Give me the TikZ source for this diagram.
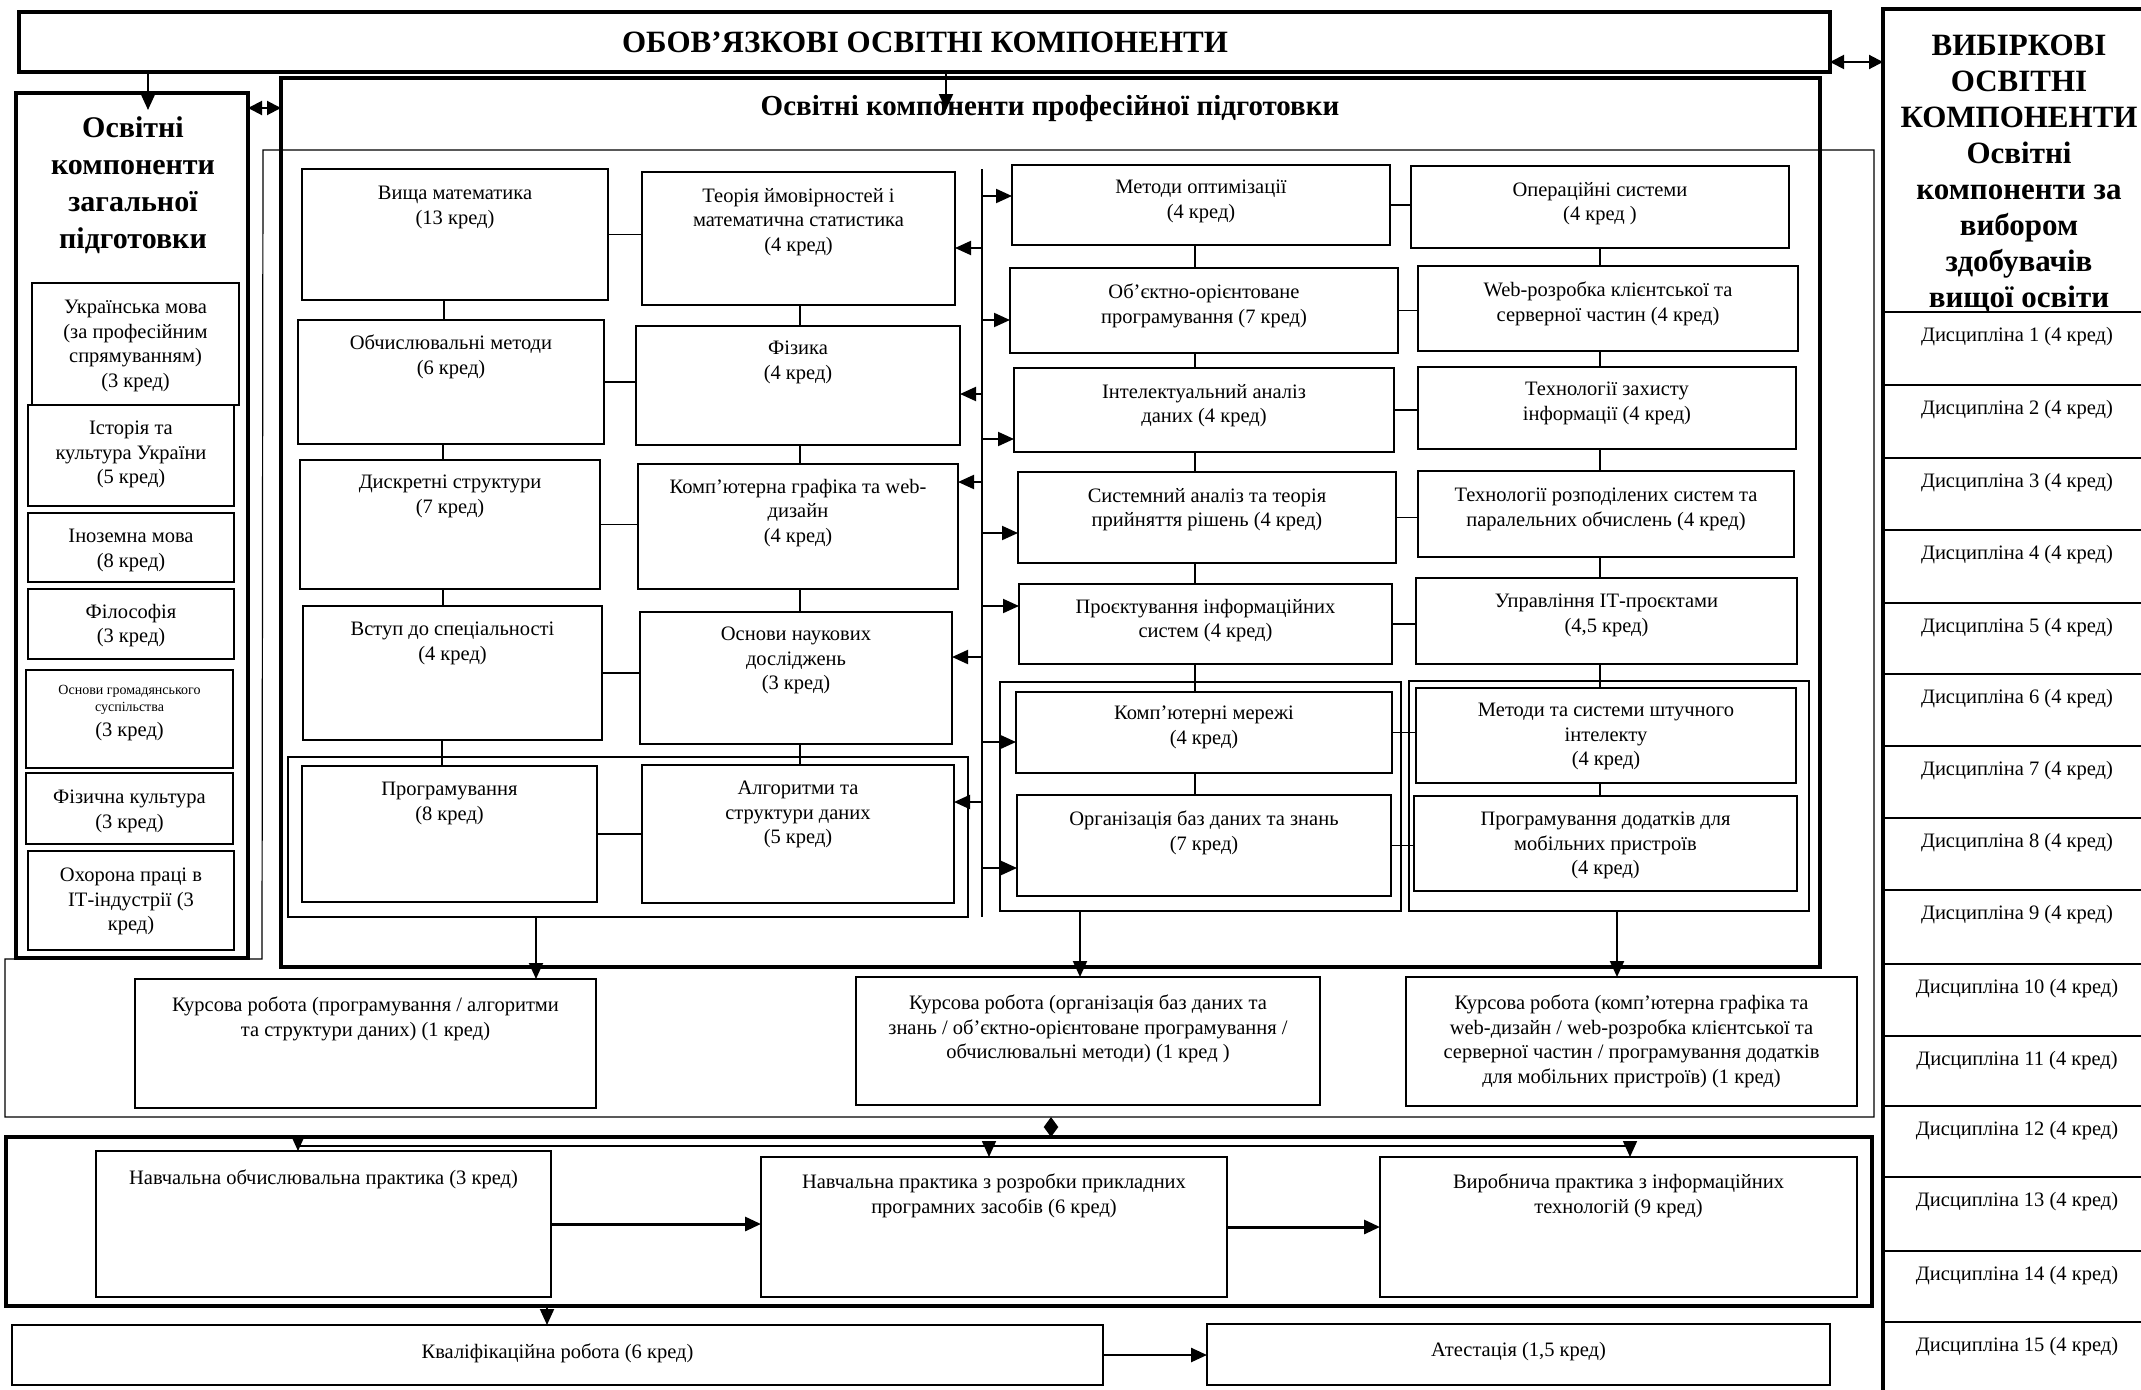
\documentclass[tikz,border=0pt]{standalone}
\usepackage{fontspec}
\setmainfont{Liberation Serif}
\usetikzlibrary{arrows.meta,calc}

\newcommand\mybox[8]{%
  \node[#6,minimum width={#4-#2},minimum height={#5-#3}] (#1) at ({(#2+#4)/2},{(#3+#5)/2}) {};
  \node[txst] (#1-t) at ({(#2+#4)/2},{#7-8}) {#8};}
\newcommand\drow[4]{%
  \node[rowst,anchor=north west,minimum width=420,minimum height={#3-#2}] (#1) at (1883,#2) {};
  \node[dtx] (#1-t) at (2017,{#2+25}) {#4};}

\begin{document}
\begin{tikzpicture}[x=1pt,y=-1pt,
  bxst/.style={draw,rectangle,line width=2.2pt,inner sep=0pt,outer sep=0pt},
  bigst/.style={bxst,line width=3.5pt},
  grpst/.style={bxst,line width=2pt},
  rowst/.style={bxst,line width=2.5pt},
  txst/.style={font=\fontsize{20.5}{24.5}\selectfont,align=center,anchor=north,inner sep=0pt},
  dtx/.style={font=\fontsize{20.5}{24.5}\selectfont,inner sep=0pt},
  ttl/.style={font=\fontsize{30}{37}\selectfont\bfseries,align=center,inner sep=0pt},
  con/.style={line width=1.2pt},
  arr/.style={line width=2pt,-{Triangle[length=16pt,width=14pt]}},
  darr/.style={line width=2pt,{Triangle[length=14pt,width=14pt]}-{Triangle[length=14pt,width=14pt]}},
]
\useasboundingbox (0,0) rectangle (2141,1389);
\fill[white] (0,0) rectangle (2141,1389);
\clip (0,0) rectangle (2141,1389);

% ---------- top box ----------
\node[bigst,minimum width=1811,minimum height=60] (top) at (924.5,42) {};
\node[ttl,font=\fontsize{31}{37}\selectfont\bfseries] (top-t) at (925,42) {ОБОВ’ЯЗКОВІ ОСВІТНІ КОМПОНЕНТИ};

% ---------- thin frame ----------
\draw[con] (263,150) -- (1874,150) -- (1874,1117) -- (5,1117) -- (5,959) -- (262,959) -- cycle;

% ---------- general box ----------
\node[bigst,minimum width=232,minimum height=865] (gen) at (132,525.5) {};
\node[ttl,anchor=north] (gen-t) at (133,116) {Освітні\\компоненти\\загальної\\підготовки};
\mybox{g1}{32}{283}{239}{405}{bxst}{308}{Українська мова\\(за професійним\\спрямуванням)\\(3 кред)}
\mybox{g2}{28}{405}{234}{506}{bxst}{429}{Історія та\\культура України\\(5 кред)}
\mybox{g3}{28}{513}{234}{582}{bxst}{537}{Іноземна мова\\(8 кред)}
\mybox{g4}{28}{589}{234}{659}{bxst}{612}{Філософія\\(3 кред)}
\mybox{g5}{26}{670}{233}{768}{bxst}{693.5}{{\fontsize{14}{17}\selectfont Основи громадянського}\\[-7.5pt]{\fontsize{14}{17}\selectfont суспільства}\\(3 кред)}
\mybox{g6}{26}{773}{233}{844}{bxst}{798}{Фізична культура\\(3 кред)}
\mybox{g7}{28}{851}{234}{950}{bxst}{876}{Охорона праці в\\ІТ-індустрії (3\\кред)}

% ---------- professional box ----------
\node[bigst,minimum width=1539,minimum height=889] (prof) at (1050.5,522.5) {};
\node[ttl,font=\fontsize{29}{37}\selectfont\bfseries] (prof-t) at (1050,109) {Освітні компоненти професійної підготовки};

\mybox{vm}{302}{169}{608}{300}{bxst}{194}{Вища математика\\(13 кред)}
\mybox{tv}{642}{172}{955}{305}{bxst}{196}{Теорія ймовірностей і\\математична статистика\\(4 кред)}
\mybox{om}{298}{320}{604}{444}{bxst}{343}{Обчислювальні методи\\(6 кред)}
\mybox{fz}{636}{326}{960}{445}{bxst}{349}{Фізика\\(4 кред)}
\mybox{ds}{300}{460}{600}{589}{bxst}{483}{Дискретні структури\\(7 кред)}
\mybox{kg}{638}{464}{958}{589}{bxst}{487}{Комп’ютерна графіка та web-\\дизайн\\(4 кред)}
\mybox{vs}{303}{606}{602}{740}{bxst}{630}{Вступ до спеціальності\\(4 кред)}
\mybox{on}{640}{612}{952}{744}{bxst}{635}{Основи наукових\\досліджень\\(3 кред)}
\node[grpst,minimum width=680,minimum height=160] (gA) at (628,837) {};
\mybox{pr}{302}{766}{597}{902}{bxst}{790}{Програмування\\(8 кред)}
\mybox{al}{642}{765}{954}{903}{bxst}{789}{Алгоритми та\\структури даних\\(5 кред)}

\draw[con] (vm.east) -- (vm.east -| tv.west);
\draw[con] (om.east) -- (om.east -| fz.west);
\draw[con] (ds.east) -- (ds.east -| kg.west);
\draw[con] (vs.east) -- (vs.east -| on.west);
\draw[con] (pr.east) -- (pr.east -| al.west);
\draw[con] (vm.south -| 444,0) -- (om.north -| 444,0);
\draw[con] (om.south -| 443,0) -- (ds.north -| 443,0);
\draw[con] (ds.south -| 443,0) -- (vs.north -| 443,0);
\draw[con] (vs.south -| 442,0) -- (pr.north -| 442,0);
\draw[con] (tv.south -| 800,0) -- (fz.north -| 800,0);
\draw[con] (fz.south -| 800,0) -- (kg.north -| 800,0);
\draw[con] (kg.south -| 800,0) -- (on.north -| 800,0);
\draw[con] (on.south -| 800,0) -- (al.north -| 800,0);

\mybox{mo}{1012}{165}{1390}{245}{bxst}{188}{Методи оптимізації\\(4 кред)}
\mybox{os}{1411}{166}{1789}{248}{bxst}{190}{Операційні системи\\(4 кред )}
\mybox{oop}{1010}{268}{1398}{353}{bxst}{292}{Об'єктно-орієнтоване\\програмування (7 кред)}
\mybox{web}{1418}{266}{1798}{351}{bxst}{290}{Web-розробка клієнтської та\\серверної частин (4 кред)}
\mybox{ia}{1014}{368}{1394}{452}{bxst}{392}{Інтелектуальний аналіз\\даних (4 кред)}
\mybox{tz}{1418}{367}{1796}{449}{bxst}{390}{Технології захисту\\інформації (4 кред)}
\mybox{sa}{1018}{472}{1396}{563}{bxst}{496}{Системний аналіз та теорія\\прийняття рішень (4 кред)}
\mybox{tr}{1418}{471}{1794}{557}{bxst}{496}{Технології розподілених систем та\\паралельних обчислень (4 кред)}
\mybox{pi}{1019}{584}{1392}{664}{bxst}{607}{Проєктування інформаційних\\систем (4 кред)}
\mybox{ui}{1416}{578}{1797}{664}{bxst}{602}{Управління ІТ-проєктами\\(4,5 кред)}
\node[grpst,minimum width=401,minimum height=229] (gC) at (1200.5,796.5) {};
\node[grpst,minimum width=400,minimum height=230] (gD) at (1609,796) {};
\mybox{km}{1016}{692}{1392}{773}{bxst}{714}{Комп'ютерні мережі\\(4 кред)}
\mybox{ob}{1017}{795}{1391}{896}{bxst}{819}{Організація баз даних та знань\\(7 кред)}
\mybox{si}{1416}{688}{1796}{783}{bxst}{711}{Методи та системи штучного\\інтелекту\\(4 кред)}
\mybox{md}{1414}{796}{1797}{891}{bxst}{820}{Програмування додатків для\\мобільних пристроїв\\(4 кред)}

\foreach \a/\b in {mo/os,oop/web,ia/tz,sa/tr,pi/ui,km/si,ob/md}
  \draw[con] (\a.east) -- (\a.east -| \b.west);
\foreach \a/\b in {mo/oop,oop/ia,ia/sa,sa/pi,pi/km,km/ob}
  \draw[con] (\a.south -| 1195,0) -- (\b.north -| 1195,0);
\foreach \a/\b in {os/web,web/tz,tz/tr,tr/ui,ui/si,si/md}
  \draw[con] (\a.south -| 1600,0) -- (\b.north -| 1600,0);

% bus
\coordinate (busT) at (982,169);
\coordinate (busB) at (982,917);
\draw[con] (busT) -- (busB);
\foreach \b/\yy in {tv/248,fz/394,kg/482,on/657,al/802}
  \draw[arr] (busT |- 0,\yy) -- (\b.east |- 0,\yy);
\foreach \b/\yy in {mo/196,oop/320,ia/439,sa/533,pi/606,km/742,ob/868}
  \draw[arr] (busT |- 0,\yy) -- (\b.west |- 0,\yy);

% top arrows
\draw[arr,shorten >=-17pt] (top.south -| 148,0) -- (gen.north -| 148,0);
\draw[arr,shorten >=-32pt] (top.south -| 946,0) -- (prof.north -| 946,0);
\draw[darr] (gen.east |- 0,108) -- (prof.west |- 0,108);

% ---------- course works ----------
\mybox{c1}{135}{979}{596}{1108}{bxst}{1005}{Курсова робота (програмування / алгоритми\\та структури даних) (1 кред)}
\mybox{c2}{856}{977}{1320}{1105}{bxst}{1003}{Курсова робота (організація баз даних та\\знань / об’єктно-орієнтоване програмування /\\обчислювальні методи) (1 кред )}
\mybox{c3}{1406}{977}{1857}{1106}{bxst}{1003}{Курсова робота (комп’ютерна графіка та\\web-дизайн / web-розробка клієнтської та\\серверної частин / програмування додатків\\для мобільних пристроїв) (1 кред)}
\draw[arr] (gA.south -| 536,0) -- (c1.north -| 536,0);
\draw[arr] (gC.south -| 1080,0) -- (c2.north -| 1080,0);
\draw[arr] (gD.south -| 1617,0) -- (c3.north -| 1617,0);

% ---------- practice ----------
\node[bigst,minimum width=1866,minimum height=169] (pb) at (939,1221.5) {};
\mybox{np}{96}{1151}{551}{1297}{bxst}{1178}{Навчальна обчислювальна практика (3 кред)}
\mybox{nr}{761}{1157}{1227}{1297}{bxst}{1182}{Навчальна практика з розробки прикладних\\програмних засобів (6 кред)}
\mybox{vp}{1380}{1157}{1857}{1297}{bxst}{1182}{Виробнича практика з інформаційних\\технологій (9 кред)}
\coordinate (fb) at (1051,1117);
\draw[line width=2pt,{Triangle[length=10pt,width=14pt]}-{Triangle[length=10pt,width=14pt]}] (fb) -- (pb.north -| fb);
\coordinate (dL) at (298,1146);
\coordinate (dR) at (1630,1146);
\draw[con] (dL) -- (dR);
\draw[arr,line width=1.6pt] (dL) -- (np.north -| dL);
\draw[arr,line width=1.6pt] (dL -| 989,0) -- (nr.north -| 989,0);
\draw[arr,line width=1.6pt] (dR) -- (vp.north -| dR);
\draw[arr,line width=3pt] (np.east) -- (np.east -| nr.west);
\draw[arr,line width=3pt] (nr.east) -- (nr.east -| vp.west);

\mybox{kv}{12}{1325}{1103}{1385}{bxst}{1352}{Кваліфікаційна робота (6 кред)}
\mybox{ats}{1207}{1324}{1830}{1385}{bxst}{1350}{Атестація (1,5 кред)}
\draw[arr] (pb.south -| 547,0) -- (kv.north -| 547,0);
\draw[arr,line width=2.5pt] (kv.east) -- (kv.east -| ats.west);

% ---------- elective column ----------
\node[bigst,anchor=north west,minimum width=420,minimum height=1420] (vb) at (1883,9) {};
\node[ttl,anchor=north,font=\fontsize{31}{36}\selectfont\bfseries] (vb-t) at (2019,34.5) {ВИБІРКОВІ\\ОСВІТНІ\\КОМПОНЕНТИ\\Освітні\\компоненти за\\вибором\\здобувачів\\вищої освіти};
\draw[darr] (top.east |- 0,62) -- (vb.west |- 0,62);
\drow{d1}{312}{385}{Дисципліна 1 (4 кред)}
\drow{d2}{385}{458}{Дисципліна 2 (4 кред)}
\drow{d3}{458}{530}{Дисципліна 3 (4 кред)}
\drow{d4}{530}{603}{Дисципліна 4 (4 кред)}
\drow{d5}{603}{674}{Дисципліна 5 (4 кред)}
\drow{d6}{674}{746}{Дисципліна 6 (4 кред)}
\drow{d7}{746}{818}{Дисципліна 7 (4 кред)}
\drow{d8}{818}{890}{Дисципліна 8 (4 кред)}
\drow{d9}{890}{964}{Дисципліна 9 (4 кред)}
\drow{d10}{964}{1036}{Дисципліна 10 (4 кред)}
\drow{d11}{1036}{1106}{Дисципліна 11 (4 кред)}
\drow{d12}{1106}{1177}{Дисципліна 12 (4 кред)}
\drow{d13}{1177}{1251}{Дисципліна 13 (4 кред)}
\drow{d14}{1251}{1322}{Дисципліна 14 (4 кред)}
\drow{d15}{1322}{1420}{Дисципліна 15 (4 кред)}
\end{tikzpicture}
\end{document}
